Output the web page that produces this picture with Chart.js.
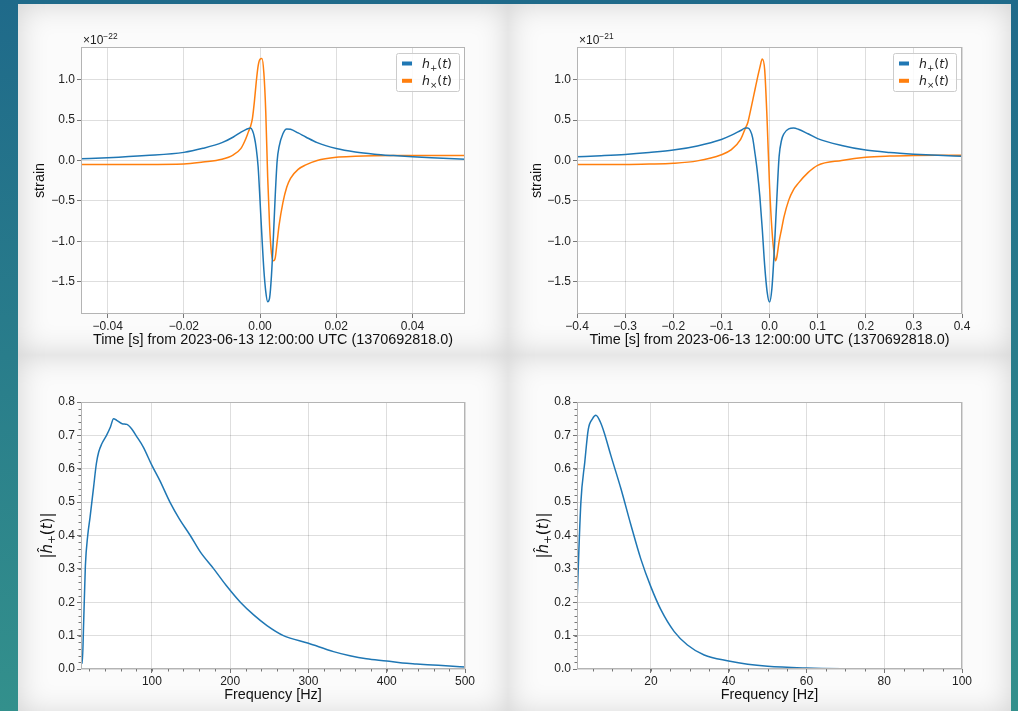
<!DOCTYPE html>
<html lang="en">
<head>
<meta charset="UTF-8">
<title>Waveform plots</title>
<script src="https://cdn.jsdelivr.net/npm/chart.js@4.4.0/dist/chart.umd.min.js"></script>
<style>
  html, body { margin: 0; padding: 0; width: 1018px; height: 711px; overflow: hidden; }
  body { position: relative; background: linear-gradient(to bottom, #1f6a8a, #33908c); }
  .panel { position: absolute; background: #fbfbfb; box-shadow: inset 0 0 30px rgba(0,0,0,0.17); overflow: hidden; }
  .panel canvas { position: absolute; left: 0; top: 0; }
</style>
</head>
<body>
<div class="panel" style="left:18px;top:4px;width:490px;height:351px"><canvas id="tl" width="490" height="351"></canvas></div>
<div class="panel" style="left:508px;top:4px;width:503px;height:351px"><canvas id="tr" width="503" height="351"></canvas></div>
<div class="panel" style="left:18px;top:355px;width:490px;height:360px"><canvas id="bl" width="490" height="360"></canvas></div>
<div class="panel" style="left:508px;top:355px;width:503px;height:360px"><canvas id="br" width="503" height="360"></canvas></div>

<script>
// short waveform, time in s, strain in units of 1e-22
const timeShort = [-0.047, -0.04, -0.03, -0.02, -0.015, -0.01, -0.007, -0.005, -0.004, -0.003, -0.0025, -0.002, -0.0015, -0.001, -0.0005, 0, 0.0005, 0.001, 0.0015, 0.002, 0.0025, 0.003, 0.0035, 0.004, 0.0045, 0.005, 0.006, 0.007, 0.008, 0.01, 0.012, 0.015, 0.02, 0.025, 0.03, 0.035, 0.04, 0.045, 0.054];
const hpShort = [0.02, 0.033, 0.06, 0.10, 0.15, 0.22, 0.29, 0.35, 0.375, 0.395, 0.40, 0.37, 0.29, 0.15, -0.08, -0.5, -0.95, -1.35, -1.62, -1.745, -1.70, -1.42, -0.95, -0.42, 0.0, 0.17, 0.33, 0.39, 0.385, 0.34, 0.29, 0.22, 0.148, 0.105, 0.078, 0.06, 0.045, 0.033, 0.016];
const hcShort = [-0.05, -0.05, -0.05, -0.045, -0.02, 0.015, 0.07, 0.15, 0.24, 0.36, 0.42, 0.52, 0.72, 0.97, 1.17, 1.25, 1.26, 1.08, 0.6, -0.2, -0.8, -1.15, -1.24, -1.2, -1.0, -0.8, -0.52, -0.33, -0.22, -0.11, -0.055, 0.0, 0.04, 0.052, 0.058, 0.061, 0.062, 0.062, 0.062];

// long waveform, time in s, strain in units of 1e-21
const timeLong = [-0.4, -0.35, -0.3, -0.25, -0.2, -0.15, -0.1, -0.08, -0.06, -0.05, -0.045, -0.04, -0.035, -0.03, -0.025, -0.02, -0.015, -0.01, -0.005, 0, 0.005, 0.01, 0.0125, 0.015, 0.02, 0.025, 0.03, 0.04, 0.05, 0.06, 0.08, 0.1, 0.15, 0.2, 0.25, 0.3, 0.35, 0.4];
const hpLong = [0.045, 0.058, 0.074, 0.098, 0.128, 0.18, 0.26, 0.31, 0.37, 0.40, 0.40, 0.37, 0.28, 0.08, -0.15, -0.45, -0.85, -1.3, -1.62, -1.75, -1.58, -1.1, -0.8, -0.5, 0.05, 0.25, 0.33, 0.39, 0.40, 0.385, 0.33, 0.27, 0.185, 0.128, 0.098, 0.078, 0.063, 0.053];
const hcLong = [-0.05, -0.05, -0.05, -0.045, -0.035, -0.005, 0.07, 0.13, 0.26, 0.40, 0.47, 0.6, 0.74, 0.88, 1.02, 1.15, 1.255, 1.12, 0.5, -0.3, -0.85, -1.17, -1.24, -1.2, -1.0, -0.85, -0.7, -0.49, -0.36, -0.28, -0.15, -0.06, 0.0, 0.04, 0.055, 0.062, 0.065, 0.066];

// spectra
const freqA = [9.4, 11, 12.8, 15, 18, 21, 25.5, 29, 32, 36, 42, 47, 51, 55, 62, 68, 74, 81, 89, 100, 110, 123, 135, 149, 162, 179, 195, 213, 230, 247, 268, 300, 332, 353, 374, 400, 420, 438, 459, 480, 500];
const ampA = [0.05, 0.017, 0.14, 0.31, 0.40, 0.455, 0.545, 0.615, 0.65, 0.675, 0.70, 0.725, 0.75, 0.745, 0.735, 0.733, 0.72, 0.695, 0.665, 0.61, 0.565, 0.50, 0.45, 0.40, 0.35, 0.30, 0.25, 0.20, 0.162, 0.13, 0.10, 0.077, 0.052, 0.04, 0.031, 0.024, 0.018, 0.015, 0.012, 0.009, 0.006];
const freqB = [1, 2, 3, 3.9, 5, 5.85, 7, 8, 9.7, 12.3, 14.9, 17.4, 20, 22.6, 26, 29.4, 33.7, 40, 44.9, 50, 60, 69, 80, 100];
const ampB = [0.20, 0.50, 0.62, 0.718, 0.75, 0.76, 0.74, 0.708, 0.64, 0.54, 0.43, 0.33, 0.246, 0.177, 0.112, 0.072, 0.042, 0.024, 0.014, 0.008, 0.003, 0.001, 0.0005, 0.0];

// tick positions
const ticksTimeShort = [-0.04, -0.02, 0, 0.02, 0.04];
const ticksTimeLong = [-0.4, -0.3, -0.2, -0.1, 0, 0.1, 0.2, 0.3, 0.4];
const ticksStrain = [-1.5, -1.0, -0.5, 0, 0.5, 1.0];
const ticksFreqA = [100, 200, 300, 400, 500];
const ticksFreqB = [20, 40, 60, 80, 100];
const ticksAmp = [0, 0.1, 0.2, 0.3, 0.4, 0.5, 0.6, 0.7, 0.8];

const seriesLabels = ['h+(t)', 'h×(t)'];
const timeTitle = 'Time [s] from 2023-06-13 12:00:00 UTC (1370692818.0)';
const freqTitle = 'Frequency [Hz]';

const FONT = '"Liberation Sans", Arial, Helvetica, sans-serif';
const MATH = '"DejaVu Sans", sans-serif';
const BLUE = '#1f77b4';
const ORANGE = '#ff7f0e';

const pairs = (xs, ys) => xs.map((x, i) => ({x: x, y: ys[i]}));
const fmt = d => v => {
    const s = Math.abs(v).toFixed(d);
    return (v < 0 && Number(s) !== 0 ? '\u2212' : '') + s;
};

const hPlus = [{t: 'h', it: 1}, {t: '+', sub: 1}, {t: '('}, {t: 't', it: 1}, {t: ')'}];
const hCross = [{t: 'h', it: 1}, {t: '×', sub: 1}, {t: '('}, {t: 't', it: 1}, {t: ')'}];
const hHat = [{t: '|'}, {t: 'ĥ', it: 1}, {t: '+', sub: 1}, {t: '('}, {t: 't', it: 1}, {t: ')'}, {t: '|'}];

function partFont(p, size, fam) {
    const fs = (p.sub || p.sup) ? size * 0.7 : size;
    return (p.it ? 'italic ' : '') + fs + 'px ' + fam;
}
function richWidth(ctx, parts, size, fam) {
    let w = 0;
    parts.forEach(p => { ctx.font = partFont(p, size, fam); w += ctx.measureText(p.t).width; });
    return w;
}
function drawRich(ctx, parts, x, y, size, fam) {
    let cx = x;
    ctx.textAlign = 'left';
    ctx.textBaseline = 'alphabetic';
    parts.forEach(p => {
        ctx.font = partFont(p, size, fam);
        const dy = p.sub ? size * 0.22 : p.sup ? -size * 0.42 : 0;
        ctx.fillText(p.t, cx, y + dy);
        cx += ctx.measureText(p.t).width;
    });
}

// extra drawing per canvas: frame, offset text, legend, minor ticks, rich y label
const extras = {
    tl: {offset: '\u221222', legend: true},
    tr: {offset: '\u221221', legend: true},
    bl: {minor: {x: 20, y: 0.02}, ylabel: 27},
    br: {minor: {x: 5, y: 0.02}, ylabel: 33}
};

const mplExtras = {
    id: 'mplExtras',
    beforeDraw(chart) {
        const {ctx, chartArea: a} = chart;
        ctx.save();
        ctx.fillStyle = '#ffffff';
        ctx.fillRect(a.left, a.top, a.right - a.left, a.bottom - a.top);
        ctx.restore();
    },
    afterDraw(chart) {
        const {ctx, chartArea: a, scales} = chart;
        const ex = extras[chart.canvas.id];
        ctx.save();
        ctx.strokeStyle = '#b4b4b4';
        ctx.lineWidth = 1;
        ctx.strokeRect(Math.round(a.left) + 0.5, Math.round(a.top) + 0.5,
                       Math.round(a.right - a.left) - 1, Math.round(a.bottom - a.top) - 1);

        ctx.fillStyle = '#222';
        if (ex.offset) {
            drawRich(ctx, [{t: '×10'}, {t: ex.offset, sup: 1}], a.left + 2, a.top - 3, 12, FONT);
        }
        if (ex.minor) {
            ctx.strokeStyle = '#777';
            const sx = scales.x, sy = scales.y;
            for (let v = Math.ceil(sx.min / ex.minor.x) * ex.minor.x; v <= sx.max; v += ex.minor.x) {
                const px = Math.round(sx.getPixelForValue(v)) + 0.5;
                ctx.beginPath(); ctx.moveTo(px, a.bottom); ctx.lineTo(px, a.bottom + 2.5); ctx.stroke();
            }
            for (let i = 0; i * ex.minor.y <= sy.max + 1e-9; i++) {
                const py = Math.round(sy.getPixelForValue(i * ex.minor.y)) + 0.5;
                ctx.beginPath(); ctx.moveTo(a.left, py); ctx.lineTo(a.left - 2.5, py); ctx.stroke();
            }
        }
        if (ex.ylabel) {
            const w = richWidth(ctx, hHat, 15, MATH);
            ctx.translate(ex.ylabel, (a.top + a.bottom) / 2);
            ctx.rotate(-Math.PI / 2);
            ctx.fillStyle = '#111';
            drawRich(ctx, hHat, -w / 2, 7, 15, MATH);
            ctx.setTransform(1, 0, 0, 1, 0, 0);
        }
        if (ex.legend) {
            const bw = 63, bh = 38;
            const bx = a.right - 6 - bw, by = a.top + 6;
            ctx.fillStyle = 'rgba(255,255,255,0.85)';
            ctx.strokeStyle = '#cccccc';
            ctx.beginPath();
            ctx.roundRect(bx + 0.5, by + 0.5, bw, bh, 2);
            ctx.fill(); ctx.stroke();
            const rows = [[BLUE, hPlus], [ORANGE, hCross]];
            rows.forEach((r, i) => {
                const cy = by + 10.5 + i * 17.3;
                ctx.fillStyle = r[0];
                ctx.fillRect(bx + 6, cy - 2, 10, 4);
                ctx.fillStyle = '#222';
                drawRich(ctx, r[1], bx + 26, cy + 4.5, 12.5, MATH);
            });
        }
        ctx.restore();
    }
};

function buildChart(id, spec) {
    return new Chart(document.getElementById(id), {
        type: 'line',
        data: {
            datasets: spec.series.map(s => ({
                label: s.label,
                data: pairs(s.x, s.y),
                borderColor: s.color,
                borderWidth: 1.5,
                pointRadius: 0,
                fill: false,
                cubicInterpolationMode: 'monotone'
            }))
        },
        options: {
            responsive: false,
            animation: false,
            events: [],
            layout: {padding: {left: 0, top: spec.top, right: spec.right, bottom: 0}},
            plugins: {legend: {display: false}, tooltip: {enabled: false}},
            scales: {
                x: {
                    type: 'linear', min: spec.xmin, max: spec.xmax,
                    afterBuildTicks: s => { s.ticks = spec.xticks.map(v => ({value: v})); },
                    ticks: {autoSkip: false, maxRotation: 0,
                            color: '#222', font: {family: FONT, size: 12}, padding: 1, callback: fmt(spec.xdec)},
                    grid: {color: 'rgba(0,0,0,0.13)', lineWidth: 1, tickLength: 4, tickColor: '#777'},
                    border: {display: false},
                    title: {display: true, text: spec.xtitle, color: '#111',
                            font: {family: FONT, size: 14.4}, padding: {top: 0, bottom: spec.xtpad}},
                    afterFit: s => { s.height = spec.bottom; }
                },
                y: {
                    type: 'linear', min: spec.ymin, max: spec.ymax,
                    afterBuildTicks: s => { s.ticks = spec.yticks.map(v => ({value: v})); },
                    ticks: {autoSkip: false,
                            color: '#222', font: {family: FONT, size: 12}, padding: 2, callback: fmt(1)},
                    grid: {color: 'rgba(0,0,0,0.13)', lineWidth: 1, tickLength: 4, tickColor: '#777'},
                    border: {display: false},
                    title: {display: !!spec.ytitle, text: spec.ytitle || '', color: '#111',
                            font: {family: FONT, size: 14.4}, padding: {top: spec.ytpad || 0, bottom: 0}},
                    afterFit: s => { s.width = spec.left; }
                }
            }
        },
        plugins: [mplExtras]
    });
}

buildChart('tl', {
    series: [{label: seriesLabels[0], x: timeShort, y: hpShort, color: BLUE},
             {label: seriesLabels[1], x: timeShort, y: hcShort, color: ORANGE}],
    xmin: -0.047, xmax: 0.0538, xticks: ticksTimeShort, xdec: 2,
    ymin: -1.897, ymax: 1.402, yticks: ticksStrain,
    left: 63, top: 43, right: 43, bottom: 41,
    xtitle: timeTitle, xtpad: 6.4, ytitle: 'strain', ytpad: 13.4
});
buildChart('tr', {
    series: [{label: seriesLabels[0], x: timeLong, y: hpLong, color: BLUE},
             {label: seriesLabels[1], x: timeLong, y: hcLong, color: ORANGE}],
    xmin: -0.4, xmax: 0.4, xticks: ticksTimeLong, xdec: 1,
    ymin: -1.897, ymax: 1.402, yticks: ticksStrain,
    left: 69, top: 43, right: 49, bottom: 41,
    xtitle: timeTitle, xtpad: 6.4, ytitle: 'strain', ytpad: 20.4
});
buildChart('bl', {
    series: [{label: seriesLabels[0], x: freqA, y: ampA, color: BLUE}],
    xmin: 9.4, xmax: 500, xticks: ticksFreqA, xdec: 0,
    ymin: 0, ymax: 0.8, yticks: ticksAmp,
    left: 63, top: 47, right: 43, bottom: 46,
    xtitle: freqTitle, xtpad: 11.4
});
buildChart('br', {
    series: [{label: seriesLabels[0], x: freqB, y: ampB, color: BLUE}],
    xmin: 1, xmax: 100, xticks: ticksFreqB, xdec: 0,
    ymin: 0, ymax: 0.8, yticks: ticksAmp,
    left: 69, top: 47, right: 49, bottom: 46,
    xtitle: freqTitle, xtpad: 11.4
});
</script>
</body>
</html>
